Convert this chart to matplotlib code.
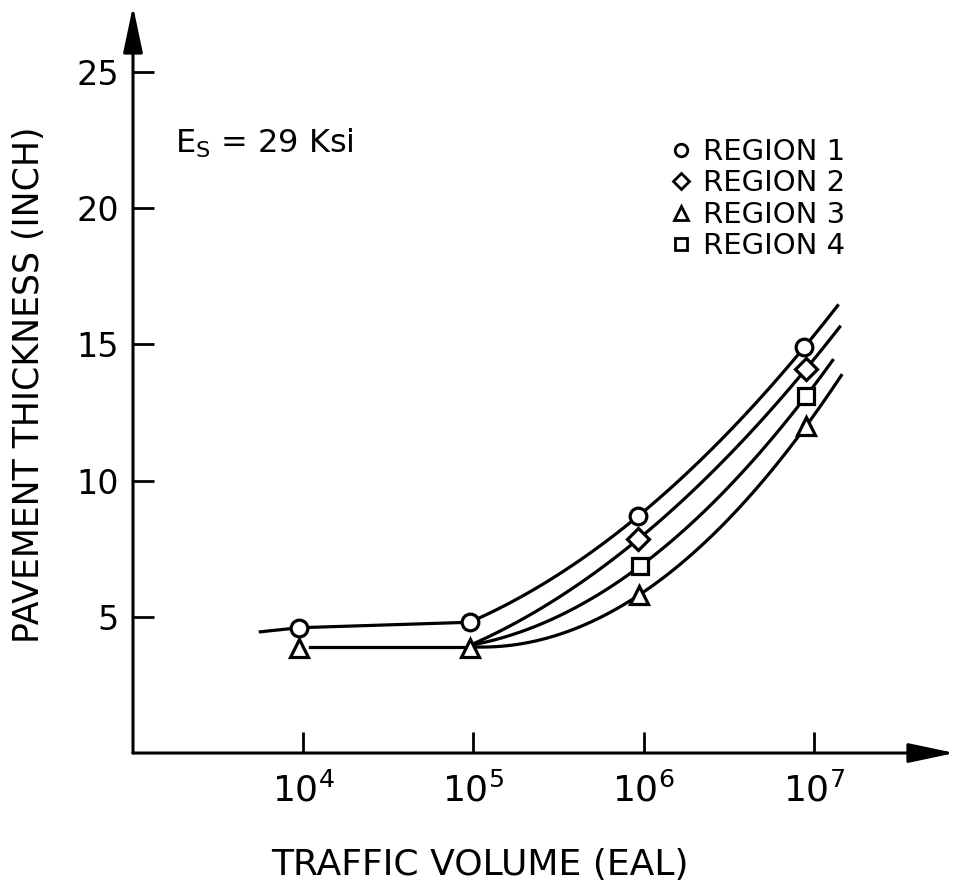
from matplotlib import pyplot as plt
from matplotlib.lines import Line2D
import numpy as np

# measured points (traffic volume in EAL, thickness in inch)
r1_x = [9.5e3, 9.5e4, 9.3e5, 8.8e6]
r1_y = [4.6, 4.8, 8.7, 14.9]
r2_x = [9.3e5, 9.0e6]
r2_y = [7.85, 14.1]
r3_x = [9.5e3, 9.5e4, 9.4e5, 9.0e6]
r3_y = [3.85, 3.85, 5.8, 12.0]
r4_x = [9.5e5, 9.0e6]
r4_y = [6.85, 13.1]

c1_x = [5.6e3, 9.5e3, 9.5e4, 9.3e5, 8.8e6]
c1_y = [4.45, 4.6, 4.8, 8.7, 14.9]
c1_end = 1.38e7
c2_x = [9.5e4, 9.3e5, 9.0e6]
c2_y = [3.95, 7.85, 14.1]
c2_end = 1.42e7
c3_x = [1.1e4, 9.5e4, 9.4e5, 9.0e6]
c3_y = [3.9, 3.9, 5.8, 12.0]
c3_end = 1.45e7
c4_x = [9.5e4, 9.5e5, 9.0e6]
c4_y = [3.95, 6.85, 13.1]
c4_end = 1.29e7

xticks = [1e4, 1e5, 1e6, 1e7]
xticklabels = [r'$\mathregular{10^{4}}$', r'$\mathregular{10^{5}}$',
               r'$\mathregular{10^{6}}$', r'$\mathregular{10^{7}}$']
yticks = [5, 10, 15, 20, 25]

fig = plt.figure(figsize=(9.54, 8.9), dpi=100)
ax = fig.add_axes([0.1394, 0.1539, 0.8564, 0.8326])
ax.set_xscale('log')
ax.set_xlim(1e3, 10 ** 7.8)
ax.set_ylim(0, 27.2)


def draw_curve(kx, ky, x_end):
    lx = np.log10(kx)
    # straight lead-in up to the third-last knot
    if len(kx) > 3:
        ax.plot(kx[:-2], ky[:-2], color='black', lw=2.3, zorder=2)
    coef = np.polyfit(lx[-3:], ky[-3:], 2)
    xs = np.linspace(lx[-3], np.log10(x_end), 80)
    ax.plot(10 ** xs, np.polyval(coef, xs), color='black', lw=2.3, zorder=2)


draw_curve(c1_x, c1_y, c1_end)
draw_curve(c2_x, c2_y, c2_end)
draw_curve(c3_x, c3_y, c3_end)
draw_curve(c4_x, c4_y, c4_end)

mk = dict(ls='none', mfc='white', mec='black', mew=2.3, zorder=3)
ax.plot(r1_x, r1_y, marker='o', ms=12, **mk)
ax.plot(r2_x, r2_y, marker='D', ms=11, **mk)
ax.plot(r3_x, r3_y, marker='^', ms=13, **mk)
ax.plot(r4_x, r4_y, marker='s', ms=11, **mk)

# axes drawn as arrows
for s in ['top', 'right', 'left', 'bottom']:
    ax.spines[s].set_visible(False)
arrow = dict(arrowstyle='-|>,head_length=0.95,head_width=0.2', color='black',
             lw=2.2, mutation_scale=30, shrinkA=0, shrinkB=0)
ax.annotate('', xy=(1.006, 0), xytext=(0, 0), xycoords='axes fraction',
            arrowprops=arrow, annotation_clip=False)
ax.annotate('', xy=(0, 1.008), xytext=(0, 0), xycoords='axes fraction',
            arrowprops=arrow, annotation_clip=False)

ax.set_xticks(xticks)
ax.set_xticklabels(xticklabels)
ax.xaxis.set_minor_locator(plt.NullLocator())
ax.set_yticks(yticks)
ax.tick_params(axis='both', direction='in', length=15, width=2.0)
ax.tick_params(axis='y', labelsize=24, pad=10)
ax.tick_params(axis='x', labelsize=26, pad=14)

ax.set_ylabel('PAVEMENT THICKNESS (INCH)', fontsize=25)
ax.yaxis.set_label_coords(-0.106, 0.497)
ax.set_xlabel('TRAFFIC VOLUME (EAL)', fontsize=26)
ax.xaxis.set_label_coords(0.425, -0.128)

ax.text(0.051, 0.823, r'E$_\mathregular{S}$ = 29 Ksi', transform=ax.transAxes,
        fontsize=23, va='center', ha='left')

handles = [
    Line2D([], [], marker='o', ls='none', ms=9, mfc='white', mec='black', mew=2),
    Line2D([], [], marker='D', ls='none', ms=8, mfc='white', mec='black', mew=2),
    Line2D([], [], marker='^', ls='none', ms=10, mfc='white', mec='black', mew=2),
    Line2D([], [], marker='s', ls='none', ms=9, mfc='white', mec='black', mew=2),
]
ax.legend(handles, ['REGION 1', 'REGION 2', 'REGION 3', 'REGION 4'],
          loc='upper left', bbox_to_anchor=(0.637, 0.85), frameon=False,
          fontsize=21, handletextpad=0.3, labelspacing=0.12, borderpad=0,
          handlelength=0.9)

fig.savefig('out.png', dpi=100)
